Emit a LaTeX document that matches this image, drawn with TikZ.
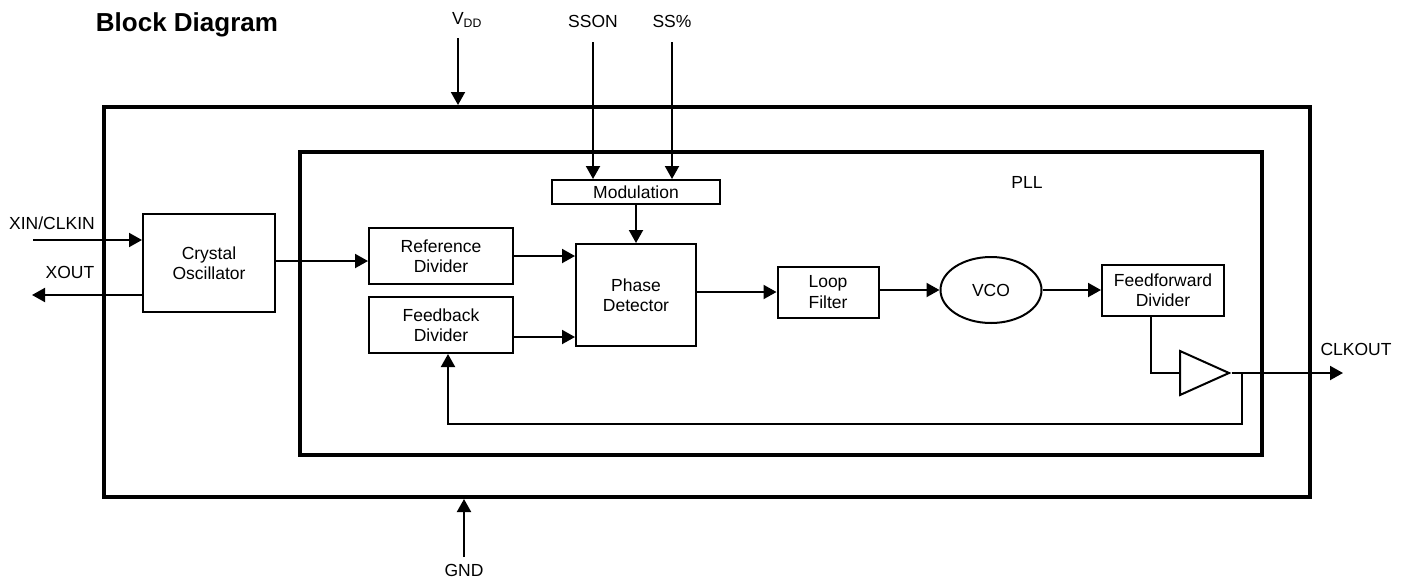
\documentclass[tikz,border=0pt]{standalone}
\usepackage{fontspec}
\setmainfont{Liberation Sans}
\usetikzlibrary{arrows.meta,positioning,shapes.geometric}

\begin{document}
\begin{tikzpicture}[x=1pt,y=-1pt,>={Triangle[length=13pt,width=14pt]},line width=2pt,
  font=\fontsize{17.5}{20.5}\selectfont,
  blk/.style={draw,line width=2pt,inner sep=0pt,align=center},
  frame/.style={draw,line width=4pt,inner sep=0pt}]
  \useasboundingbox (0,0) rectangle (1405,579);
  \node[font=\fontsize{26}{30}\selectfont\bfseries] (title) at (187,25) {Block Diagram};
  % outer chip and PLL frames
  \node[frame,minimum width=1206pt,minimum height=390pt] (chip) at (707,302) {};
  \node[frame,minimum width=962pt,minimum height=303pt] (pll) at (781,303.5) {};
  \node (plltxt) at (1027,182) {PLL};
  % blocks
  \node[blk,minimum width=132pt,minimum height=98pt] (xtal) at (209,263) {Crystal\\Oscillator};
  \node[blk,minimum width=144pt,minimum height=56pt] (ref) at (441,256) {Reference\\Divider};
  \node[blk,minimum width=144pt,minimum height=56pt] (fb) at (441,325) {Feedback\\Divider};
  \node[blk,minimum width=168pt,minimum height=24pt] (mod) at (636,192) {Modulation};
  \node[blk,minimum width=120pt,minimum height=102pt] (pd) at (636,295) {Phase\\Detector};
  \node[blk,minimum width=101pt,minimum height=51pt] (lf) at (828,292) {Loop\\Filter};
  \node[blk,ellipse,minimum width=101pt,minimum height=66pt] (vco) at (991,290) {VCO};
  \node[blk,minimum width=122pt,minimum height=51pt] (ff) at (1163,290) {Feedforward\\Divider};
  \node[blk,isosceles triangle,isosceles triangle stretches,minimum width=44pt,minimum height=49pt,anchor=west] (buf) at (1179,373) {};
  % pins
  \node (vdd) at (467,20) {V\textsubscript{DD}};
  \node (sson) at (593,21) {SSON};
  \node (ssp) at (672,21) {SS\%};
  \node (xinl) at (52,223) {XIN/CLKIN};
  \node (xoutl) at (70,272) {XOUT};
  \node (clkoutl) at (1356,349) {CLKOUT};
  \node (gnd) at (464,570) {GND};
  \coordinate (vddin) at (458,38);
  \coordinate (ssonin) at (593,42);
  \coordinate (sspin) at (672,42);
  \coordinate (xin) at (33,240);
  \coordinate (xout) at (32,295);
  \coordinate (clkout) at (1343,373);
  \coordinate (gndin) at (464,557);
  % connections
  \draw[->] (vddin) -- (vddin |- chip.north);
  \draw[->] (ssonin) -- (ssonin |- mod.north);
  \draw[->] (sspin) -- (sspin |- mod.north);
  \draw[->] (xin) -- (xin -| xtal.west);
  \draw[->] (xout -| xtal.west) -- (xout);
  \draw[->] ([yshift=2pt]xtal.east) -- ([yshift=-5pt]ref.west);
  \draw[->] (ref.east) -- (ref.east -| pd.west);
  \draw[->] ([yshift=-12pt]fb.east) -- ([yshift=-12pt]fb.east -| pd.west);
  \draw[->] (mod) -- (pd);
  \draw[->] (lf.west -| pd.east) -- (lf.west);
  \draw[->] (vco.west -| lf.east) -- (vco.west);
  \draw[->] (vco) -- (ff);
  \draw ([xshift=-12pt]ff.south) |- (buf.west);
  \draw[->] (buf.apex) -- (clkout);
  \draw[->] ([xshift=10pt]buf.apex) -- ++(0,51) -| ([xshift=7pt]fb.south);
  \draw[->] (gndin) -- (gndin |- chip.south);
\end{tikzpicture}
\end{document}
